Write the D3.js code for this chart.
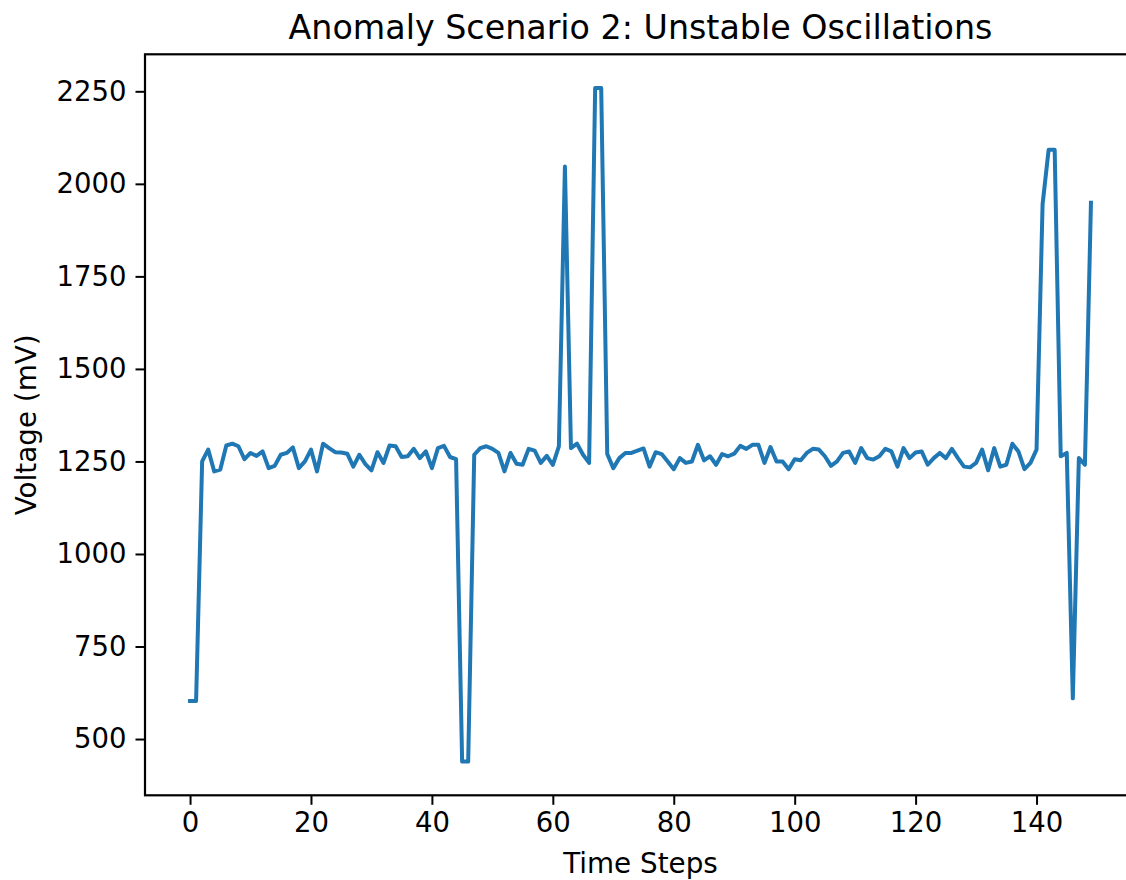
<!DOCTYPE html>
<html>
<head>
<meta charset="utf-8">
<script src="https://cdn.jsdelivr.net/npm/d3@7"></script>
<style>
    body { margin: 0; background: #fff; }
    text { font-family: "DejaVu Sans", sans-serif; fill: #000; }
</style>
</head>
<body>
<div id="chart"></div>
<script>
// Voltage readings, one per time step (0..149)
const voltage = [
    603, 603, 1250, 1282, 1223, 1228, 1293, 1298, 1291, 1256,
    1273, 1265, 1277, 1232, 1238, 1268, 1273, 1288, 1232, 1250,
    1282, 1223, 1298, 1286, 1275, 1274, 1271, 1236, 1268, 1243,
    1226, 1275, 1246, 1293, 1291, 1262, 1264, 1284, 1259, 1277,
    1232, 1286, 1292, 1262, 1256, 439, 439, 1268, 1286, 1291,
    1284, 1273, 1223, 1273, 1244, 1241, 1284, 1279, 1246, 1265,
    1241, 1291, 2047, 1286, 1298, 1268, 1246, 2259, 2259, 1270,
    1232, 1259, 1273, 1273, 1279, 1285, 1236, 1275, 1270, 1250,
    1229, 1259, 1246, 1250, 1295, 1253, 1264, 1241, 1270, 1264,
    1271, 1292, 1284, 1295, 1295, 1246, 1289, 1250, 1250, 1229,
    1256, 1253, 1273, 1284, 1282, 1264, 1238, 1250, 1273, 1277,
    1246, 1286, 1259, 1255, 1264, 1284, 1277, 1236, 1286, 1259,
    1274, 1277, 1241, 1259, 1273, 1259, 1284, 1259, 1236, 1234,
    1246, 1282, 1226, 1286, 1236, 1241, 1298, 1277, 1229, 1246,
    1282, 1945, 2092, 2092, 1264, 1273, 610, 1259, 1241, 1949
];
const steps = voltage.map((v, i) => i);

const xTicks = [0, 20, 40, 60, 80, 100, 120, 140];
const yTicks = [500, 750, 1000, 1250, 1500, 1750, 2000, 2250];

const chartTitle = "Anomaly Scenario 2: Unstable Oscillations";
const xLabel = "Time Steps";
const yLabel = "Voltage (mV)";

const totalWidth = 1126;
const totalHeight = 880;
const margin = { top: 54.3, left: 145 };
const width = 991;
const height = 741;

const svg = d3.select("#chart")
    .append("svg")
    .attr("width", totalWidth)
    .attr("height", totalHeight);

const g = svg.append("g")
    .attr("transform", `translate(${margin.left},${margin.top})`);

// matplotlib-like 5% padding around the data
const xExt = d3.extent(steps);
const xPad = (xExt[1] - xExt[0]) * 0.05;
const x = d3.scaleLinear()
    .domain([xExt[0] - xPad, xExt[1] + xPad])
    .range([0, width]);

const yExt = d3.extent(voltage);
const yPad = (yExt[1] - yExt[0]) * 0.05;
const y = d3.scaleLinear()
    .domain([yExt[0] - yPad, yExt[1] + yPad])
    .range([height, 0]);

// Line
const line = d3.line()
    .x((d, i) => x(steps[i]))
    .y(d => y(d));

g.append("path")
    .datum(voltage)
    .attr("fill", "none")
    .attr("stroke", "#1f77b4")
    .attr("stroke-width", 4)
    .attr("stroke-linejoin", "round")
    .attr("stroke-linecap", "square")
    .attr("d", line);

// Axes
const xAxis = g.append("g")
    .attr("transform", `translate(0,${height})`)
    .call(d3.axisBottom(x).tickValues(xTicks).tickFormat(d3.format("d"))
        .tickSize(9.5).tickPadding(8));

const yAxis = g.append("g")
    .call(d3.axisLeft(y).tickValues(yTicks).tickFormat(d3.format("d"))
        .tickSize(9.5).tickPadding(9));

[xAxis, yAxis].forEach(ax => {
    ax.select(".domain").remove();
    ax.selectAll(".tick line").attr("stroke", "#000").attr("stroke-width", 2);
    ax.selectAll(".tick text")
        .style("font-size", "27.5px")
        .style("font-family", "DejaVu Sans, sans-serif")
        .attr("fill", "#000");
});

// Frame (spines)
g.append("rect")
    .attr("x", 0)
    .attr("y", 0)
    .attr("width", width)
    .attr("height", height)
    .attr("fill", "none")
    .attr("stroke", "#000")
    .attr("stroke-width", 2.2);

// Title
svg.append("text")
    .attr("x", margin.left + width / 2)
    .attr("y", 39)
    .attr("text-anchor", "middle")
    .style("font-size", "33.3px")
    .text(chartTitle);

// Axis labels
svg.append("text")
    .attr("x", margin.left + width / 2)
    .attr("y", 873)
    .attr("text-anchor", "middle")
    .style("font-size", "27.8px")
    .text(xLabel);

svg.append("text")
    .attr("transform", "rotate(-90)")
    .attr("x", -(margin.top + height / 2))
    .attr("y", 36)
    .attr("text-anchor", "middle")
    .style("font-size", "27.8px")
    .text(yLabel);
</script>
</body>
</html>
